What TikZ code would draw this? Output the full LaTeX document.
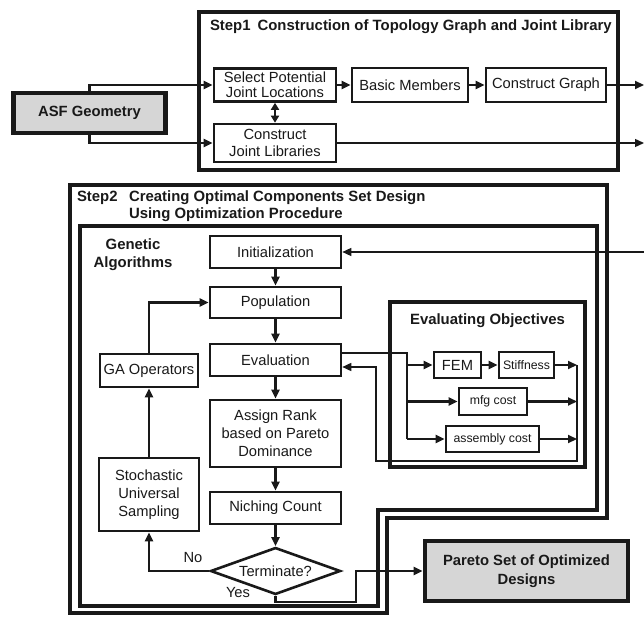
\documentclass[tikz,border=0pt]{standalone}
\usepackage{fontspec}
\setmainfont{Liberation Sans}
\usetikzlibrary{arrows.meta, shapes.geometric, positioning}
\definecolor{kasten}{RGB}{214,214,214}
\definecolor{linie}{RGB}{25,25,25}

\begin{document}
\begin{tikzpicture}[x=1pt, y=-1pt, linie, line width=2.1pt, >={Triangle[length=9pt,width=8pt]},
	box/.style={draw, line width=2.6pt, fill=white, inner sep=1pt, align=center, font=\fontsize{14.7}{17}\selectfont},
	klein/.style={box, font=\fontsize{12.3}{14}\selectfont},
	grau/.style={box, fill=kasten, line width=4.8pt, font=\bfseries\fontsize{14.8}{19}\selectfont},
	rahmen/.style={line width=4.4pt},
	titel/.style={inner sep=0pt, align=left, font=\bfseries\fontsize{14.9}{17}\selectfont},
	marke/.style={inner sep=0pt, font=\fontsize{14.7}{17}\selectfont},
	duenn/.style={line width=1.3pt}]

	\useasboundingbox (0,0) rectangle (644,617);

	% Step1
	\draw[rahmen] (199,12) rectangle (618,170);
	\node[titel, anchor=west] (t1) at (209,27) {Step1\hspace{7pt}Construction of Topology Graph and Joint Library};

	\node[grau, minimum width=152pt, minimum height=40pt] (asf) at (89.5,113) {ASF Geometry};
	\node[box, minimum width=122pt, minimum height=33pt, font=\fontsize{14.7}{15}\selectfont] (select) at (275,85) {Select Potential\\Joint Locations};
	\node[box, minimum width=116pt, minimum height=34pt] (basic) at (410,85) {Basic Members};
	\node[box, minimum width=120pt, minimum height=34pt] (graph) at (546,85) {Construct Graph};
	\node[box, minimum width=122pt, minimum height=38pt] (libs) at (275,143) {Construct\\Joint Libraries};

	\coordinate (r1) at (644,85);
	\coordinate (r2) at (644,143);
	\draw[->] (asf.north) |- (select.west);
	\draw[->] (asf.south) |- (libs.west);
	\draw[<->, >={Triangle[length=7pt,width=8pt]}] (select) -- (libs);
	\draw[->] (select) -- (basic);
	\draw[->] (basic) -- (graph);
	\draw[->] (graph) -- (r1);
	\draw[->, duenn] (libs) -- (r2);

	% Step2
	\draw[rahmen] (70,185) -- (607,185) -- (607,518) -- (387,518) -- (387,613) -- (70,613) -- cycle;
	\draw[rahmen] (80,226) -- (597,226) -- (597,510) -- (378,510) -- (378,606) -- (80,606) -- cycle;
	\node[titel, anchor=west] (s2) at (76,198) {Step2};
	\node[titel, anchor=west] (t2) at (128,206) {Creating Optimal Components Set Design\\Using Optimization Procedure};
	\node[titel, align=center, font=\bfseries\fontsize{14.9}{18}\selectfont] (ga) at (133,255) {Genetic\\Algorithms};

	\node[box, minimum width=131pt, minimum height=32pt] (init) at (275.5,252) {Initialization};
	\node[box, minimum width=131pt, minimum height=31pt] (pop) at (275.5,302.5) {Population};
	\node[box, minimum width=131pt, minimum height=32pt] (eval) at (275.5,360) {Evaluation};
	\node[box, minimum width=131pt, minimum height=67pt, font=\fontsize{14.7}{18}\selectfont] (rank) at (275.5,433.5) {Assign Rank\\based on Pareto\\Dominance};
	\node[box, minimum width=131pt, minimum height=32pt] (niche) at (275.5,508) {Niching Count};
	\node[box, diamond, aspect=2.7, minimum width=130pt, minimum height=47pt, inner sep=0pt] (term) at (275.5,571) {Terminate?};
	\node[box, minimum width=98pt, minimum height=33pt] (gaop) at (149,370.5) {GA Operators};
	\node[box, minimum width=100pt, minimum height=73pt, font=\fontsize{14.7}{18}\selectfont] (sus) at (149,494.5) {Stochastic\\Universal\\Sampling};
	\node[grau, minimum width=203pt, minimum height=60pt] (pareto) at (526.5,571) {Pareto Set of Optimized\\Designs};
	\node[marke] (no) at (193,558) {No};
	\node[marke] (yes) at (238,593) {Yes};

	\coordinate (r3) at (644,252);
	\coordinate (j1) at (356,602);
	\draw[->, duenn] (r3) -- (init);
	\draw[->] (init) -- (pop);
	\draw[->] (pop) -- (eval);
	\draw[->] (eval) -- (rank);
	\draw[->] (rank) -- (niche);
	\draw[->] (niche) -- (term);
	\draw[->] (gaop.north) |- (pop.west);
	\draw[->] (sus) -- (gaop);
	\draw[->] (term.west) -| (sus.south);
	\draw[->] (term.south) |- (j1) |- (pareto.west);

	% Evaluating Objectives
	\draw[rahmen] (390,302) rectangle (585,467);
	\node[titel] (t3) at (487.5,321) {Evaluating Objectives};
	\node[box, minimum width=47pt, minimum height=26pt] (fem) at (457.5,365) {FEM};
	\node[klein, minimum width=55pt, minimum height=26pt] (stiff) at (526.5,365) {Stiffness};
	\node[klein, minimum width=68pt, minimum height=27pt] (mfg) at (493,401.5) {mfg cost};
	\node[klein, minimum width=93pt, minimum height=26pt] (asm) at (492.5,439) {assembly cost};

	\coordinate (sp) at (407,439);
	\coordinate (bus) at (577,461);
	\coordinate (rk) at (376,461);
	\draw ([yshift=7pt]eval.east) -| (sp);
	\draw[->] (fem.west -| sp) -- (fem.west);
	\draw[->] (mfg.west -| sp) -- (mfg.west);
	\draw[->] (sp) -- (asm.west);
	\draw[->] (fem) -- (stiff);
	\draw[->] (stiff) -- (stiff -| bus);
	\draw[->] (mfg) -- (mfg -| bus);
	\draw[->] (asm) -- (asm -| bus);
	\draw[->, line width=1.6pt] (stiff -| bus) -- (bus) -- (rk) |- ([yshift=-7pt]eval.east);
\end{tikzpicture}
\end{document}
